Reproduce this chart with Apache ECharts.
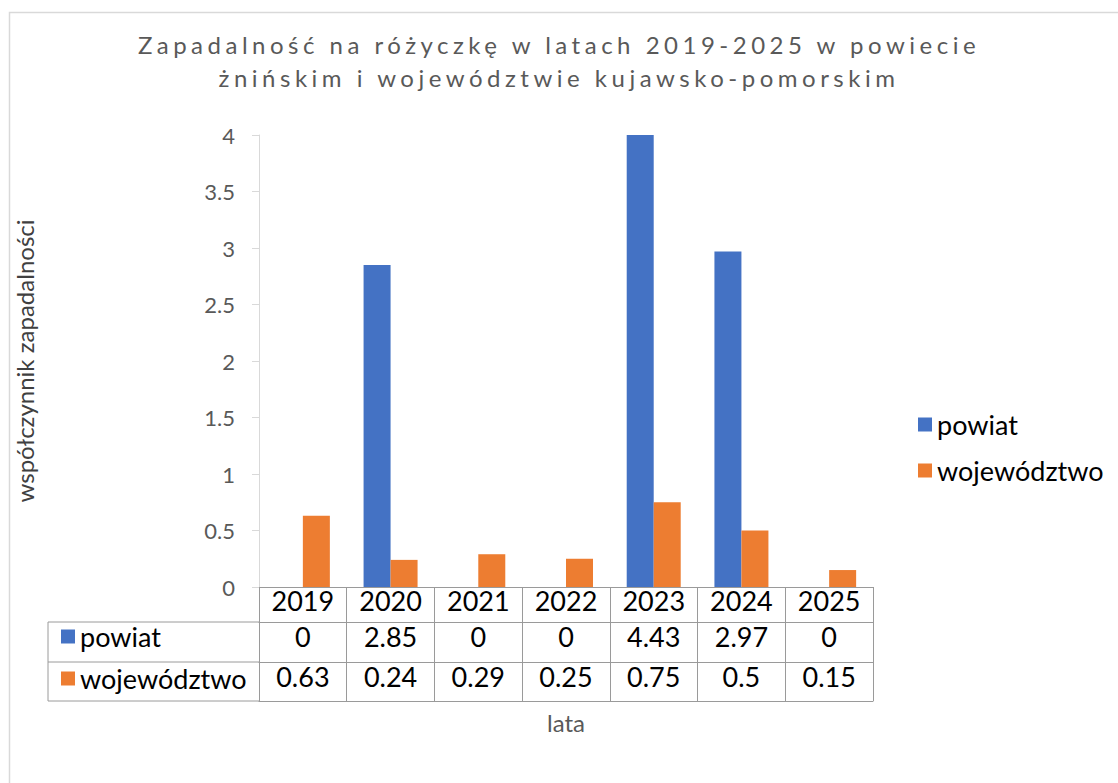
<!DOCTYPE html>
<html>
<head>
<meta charset="utf-8">
<script src="https://cdn.jsdelivr.net/npm/echarts@6/dist/echarts.min.js"></script>
<style>
html,body{margin:0;padding:0;background:#fff;}
#chart{width:1118px;height:783px;}
</style>
</head>
<body>
<div id="chart"></div>
<script>
const titleLines = ['Zapadalność na różyczkę w latach 2019-2025 w powiecie', 'żnińskim i województwie kujawsko-pomorskim'];
const categories = ['2019', '2020', '2021', '2022', '2023', '2024', '2025'];
const seriesNames = ['powiat', 'województwo'];
const powiat = [0, 2.85, 0, 0, 4.43, 2.97, 0];
const wojewodztwo = [0.63, 0.24, 0.29, 0.25, 0.75, 0.5, 0.15];
const yAxisName = 'współczynnik zapadalności';
const xAxisName = 'lata';

const FONT = 'Lato';
const TABLE_LINE = '#9a9a9a';
const TABLE_FONT = 27;
const GRID = {left: 259, right: 245, top: 135, bottom: 196};

const el = document.getElementById('chart');
const chart = echarts.init(el, null, {renderer: 'svg'});

function tableAxis(offset, tickLen, values, margin) {
  return {
    type: 'category', position: 'bottom', offset: offset, data: categories,
    axisLine: {show: true, lineStyle: {color: TABLE_LINE, width: 1}},
    axisTick: {show: tickLen > 0, length: tickLen, interval: 0, lineStyle: {color: TABLE_LINE, width: 1}},
    axisLabel: {show: !!values, interval: 0, margin: margin, fontFamily: FONT, fontSize: TABLE_FONT, color: '#000',
      formatter: (v, i) => values ? String(values[i]) : ''},
    splitLine: {show: false}
  };
}

const xAxes = [
  tableAxis(0, 35, categories, 0),
  tableAxis(35, 40, powiat, 1),
  tableAxis(75, 39, wojewodztwo, 1),
  Object.assign(tableAxis(114, 0, null, 0), {
    name: xAxisName, nameLocation: 'middle', nameGap: 9,
    nameTextStyle: {fontFamily: FONT, fontSize: 24, color: '#595959'}
  })
];

const option = {
  animation: false,
  backgroundColor: '#fff',
  title: {
    text: titleLines.join('\n'),
    left: 'center', top: 23, padding: [5, 5, 5, 17],
    textStyle: {fontFamily: FONT, fontSize: 24, fontWeight: 'normal', color: '#595959', lineHeight: 33}
  },
  legend: [
    {
      data: seriesNames, orient: 'vertical', left: 913, top: 406,
      icon: 'rect', itemWidth: 14, itemHeight: 14, itemGap: 19,
      textStyle: {fontFamily: FONT, fontSize: 27, color: '#000'}
    },
    {
      data: seriesNames, orient: 'vertical', left: 56, top: 618,
      icon: 'rect', itemWidth: 14, itemHeight: 14, itemGap: 15,
      textStyle: {fontFamily: FONT, fontSize: 27, color: '#000'},
      selectedMode: false
    }
  ],
  grid: GRID,
  xAxis: xAxes,
  yAxis: {
    type: 'value', min: 0, max: 4, interval: 0.5,
    name: yAxisName, nameLocation: 'middle', nameGap: 223,
    nameTextStyle: {fontFamily: FONT, fontSize: 24, color: '#404040'},
    axisLine: {show: true, lineStyle: {color: '#d9d9d9', width: 1}},
    axisTick: {show: true, length: 7, lineStyle: {color: '#d9d9d9'}},
    axisLabel: {fontFamily: FONT, fontSize: 22, color: '#595959', margin: 24},
    splitLine: {show: false}
  },
  graphic: [
    {type: 'rect', silent: true, z: -10, shape: {x: 9.5, y: 12.5, width: 1200, height: 900},
      style: {fill: 'none', stroke: '#d9d9d9', lineWidth: 1.5}},
    {type: 'line', silent: true, shape: {x1: 48, y1: 622, x2: 259, y2: 622}, style: {stroke: TABLE_LINE, lineWidth: 1}},
    {type: 'line', silent: true, shape: {x1: 48, y1: 662, x2: 259, y2: 662}, style: {stroke: TABLE_LINE, lineWidth: 1}},
    {type: 'line', silent: true, shape: {x1: 48, y1: 701, x2: 259, y2: 701}, style: {stroke: TABLE_LINE, lineWidth: 1}},
    {type: 'line', silent: true, shape: {x1: 48, y1: 622, x2: 48, y2: 701}, style: {stroke: TABLE_LINE, lineWidth: 1}}
  ],
  series: [
    {name: seriesNames[0], type: 'bar', data: powiat, barWidth: 27, barGap: 0, clip: true,
      itemStyle: {color: '#4472C4'}},
    {name: seriesNames[1], type: 'bar', data: wojewodztwo, barWidth: 27, barGap: 0, clip: true,
      itemStyle: {color: '#ED7D31'}}
  ]
};

chart.setOption(option);

function spaceTitle() {
  el.querySelectorAll('text').forEach(t => {
    if (titleLines.includes(t.textContent.trim())) {
      t.setAttribute('letter-spacing', '4.5');
      t.style.letterSpacing = '4.5px';
    }
  });
}
chart.on('finished', spaceTitle);
spaceTitle();
setTimeout(spaceTitle, 0);
setTimeout(spaceTitle, 100);
</script>
</body>
</html>
